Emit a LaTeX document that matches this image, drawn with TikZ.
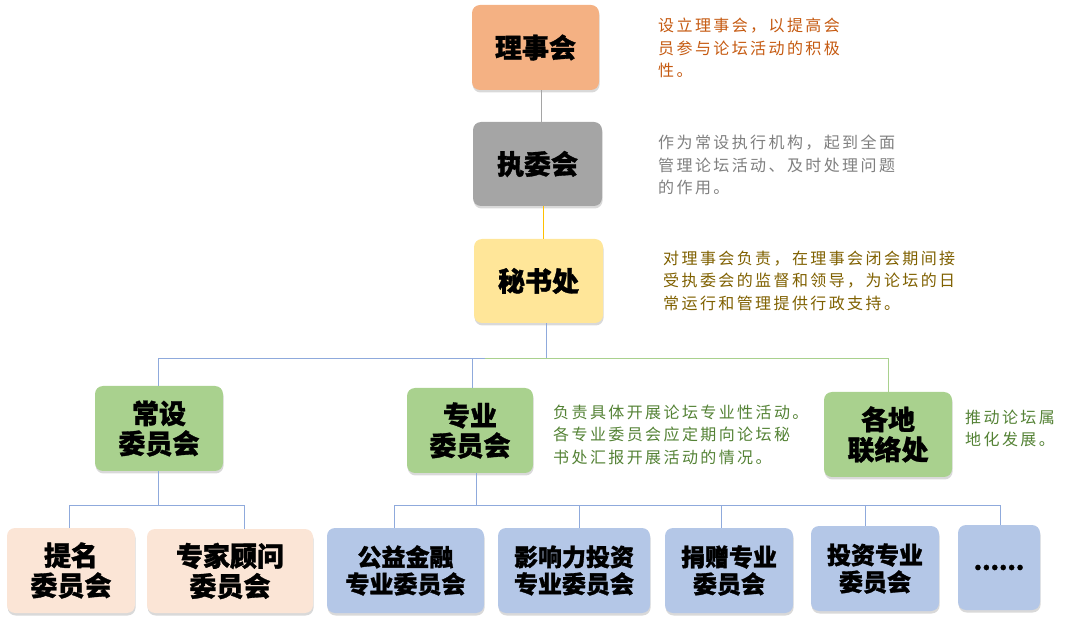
\documentclass[tikz,border=0pt]{standalone}
\usepackage{fontspec}
\usetikzlibrary{shadows}
\newfontfamily\cjk[BoldFeatures={FakeBold=1.2}]{Noto Sans CJK SC}
\newfontfamily\cjknote[LetterSpace=15]{Noto Sans CJK SC}
\definecolor{boxorange}{HTML}{F4B183}
\definecolor{boxgray}{HTML}{A5A5A5}
\definecolor{boxyellow}{HTML}{FFE699}
\definecolor{boxgreen}{HTML}{A9D18E}
\definecolor{boxpeach}{HTML}{FBE5D6}
\definecolor{boxblue}{HTML}{B4C7E7}
\definecolor{linkblue}{HTML}{8FAADC}
\definecolor{linkgreen}{HTML}{A9D18E}
\definecolor{linkgray}{HTML}{A5A5A5}
\definecolor{linkyellow}{HTML}{FFC000}
\definecolor{noteorange}{HTML}{C55A11}
\definecolor{notegray}{HTML}{7F7F7F}
\definecolor{notegold}{HTML}{7F6000}
\definecolor{notegreen}{HTML}{548235}
\begin{document}
\begin{tikzpicture}[x=1pt, y=-1pt,
    box/.style={rounded corners=8pt, inner sep=0pt, align=center,
      font=\cjk\bfseries\fontsize{27}{30}\selectfont,
      drop shadow={shadow xshift=0.6pt, shadow yshift=-2.5pt, opacity=0.3}},
    small/.style={font=\cjk\bfseries\fontsize{24}{27}\selectfont},
    note/.style={anchor=north west, inner sep=0pt, align=left,
      font=\cjknote\fontsize{16}{22.3}\selectfont},
    bluelink/.style={draw=linkblue, line width=1pt},
    greenlink/.style={draw=linkgreen, line width=1pt},
    graylink/.style={draw=linkgray, line width=1pt},
    yellowlink/.style={draw=linkyellow, line width=1pt}]
  \useasboundingbox (0,0) rectangle (1080,628);
  \node[box, fill=boxorange, minimum width=127pt, minimum height=85pt] (board) at (535.5,47.5) {理事会};
  \node[box, fill=boxgray, minimum width=129pt, minimum height=84pt] (exec) at (537.5,164) {执委会};
  \node[box, fill=boxyellow, minimum width=129pt, minimum height=84pt] (sec) at (538.5,281) {秘书处};
  \node[box, fill=boxgreen, minimum width=128pt, minimum height=85pt] (standing) at (159,428.5) {常设\\委员会};
  \node[box, fill=boxgreen, minimum width=126pt, minimum height=85pt] (prof) at (470,430.5) {专业\\委员会};
  \node[box, fill=boxgreen, minimum width=128pt, minimum height=85pt] (local) at (888,434.5) {各地\\联络处};
  \node[box, fill=boxpeach, minimum width=128pt, minimum height=85pt] (nominate) at (71,570.5) {提名\\委员会};
  \node[box, fill=boxpeach, minimum width=166pt, minimum height=84pt] (expert) at (230,571) {专家顾问\\委员会};
  \node[box, small, fill=boxblue, minimum width=157pt, minimum height=85pt] (finance) at (405.5,570.5) {公益金融\\专业委员会};
  \node[box, small, fill=boxblue, minimum width=152pt, minimum height=85pt] (impact) at (574,570.5) {影响力投资\\专业委员会};
  \node[box, small, fill=boxblue, minimum width=128pt, minimum height=85pt] (donate) at (729,570.5) {捐赠专业\\委员会};
  \node[box, small, fill=boxblue, minimum width=128pt, minimum height=85pt] (invest) at (875,568.5) {投资专业\\委员会};
  \node[box, small, fill=boxblue, minimum width=82pt, minimum height=85pt] (more) at (999,567.5) {......};

  \node[note, text=noteorange] (boardnote) at (658,18) {设立理事会，以提高会\\员参与论坛活动的积极\\性。};
  \node[note, text=notegray] (execnote) at (658,135) {作为常设执行机构，起到全面\\管理论坛活动、及时处理问题\\的作用。};
  \node[note, text=notegold] (secnote) at (663,251) {对理事会负责，在理事会闭会期间接\\受执委会的监督和领导，为论坛的日\\常运行和管理提供行政支持。};
  \node[note, text=notegreen] (profnote) at (553,405) {负责具体开展论坛专业性活动。\\各专业委员会应定期向论坛秘\\书处汇报开展活动的情况。};
  \node[note, text=notegreen] (localnote) at (965,410) {推动论坛属\\地化发展。};

  \coordinate (bus1) at (485,359);
  \coordinate (bus2) at (0,505);
  \draw[graylink] ([xshift=5.5pt]board.south) -- ([xshift=5.5pt]board.south |- exec.north);
  \draw[yellowlink] ([xshift=6pt]exec.south) -- ([xshift=6pt]exec.south |- sec.north);
  \draw[bluelink] ([xshift=8pt]sec.south) -- ([xshift=8pt]sec.south |- bus1);
  \draw[bluelink] ([xshift=-1pt]standing.north) -- ([xshift=-1pt]standing.north |- bus1) -- (bus1);
  \draw[bluelink] ([xshift=2pt]prof.north) -- ([xshift=2pt]prof.north |- bus1);
  \draw[greenlink] (bus1) -- (bus1 -| local.north) -- (local.north);
  \draw[bluelink] ([xshift=-1pt]standing.south) -- ([xshift=-1pt]standing.south |- bus2);
  \draw[bluelink] ([xshift=-2pt]nominate.north) |- ([xshift=14pt]expert.north |- bus2) -- ([xshift=14pt]expert.north);
  \draw[bluelink] ([xshift=6pt]prof.south) -- ([xshift=6pt]prof.south |- bus2);
  \draw[bluelink] ([xshift=-11pt]finance.north) |- ([xshift=1pt]more.north |- bus2) -- ([xshift=1pt]more.north);
  \foreach \n/\s in {impact/5, donate/-8, invest/-10}
    \draw[bluelink] ([xshift=\s pt]\n.north) -- ([xshift=\s pt]\n.north |- bus2);
\end{tikzpicture}
\end{document}
